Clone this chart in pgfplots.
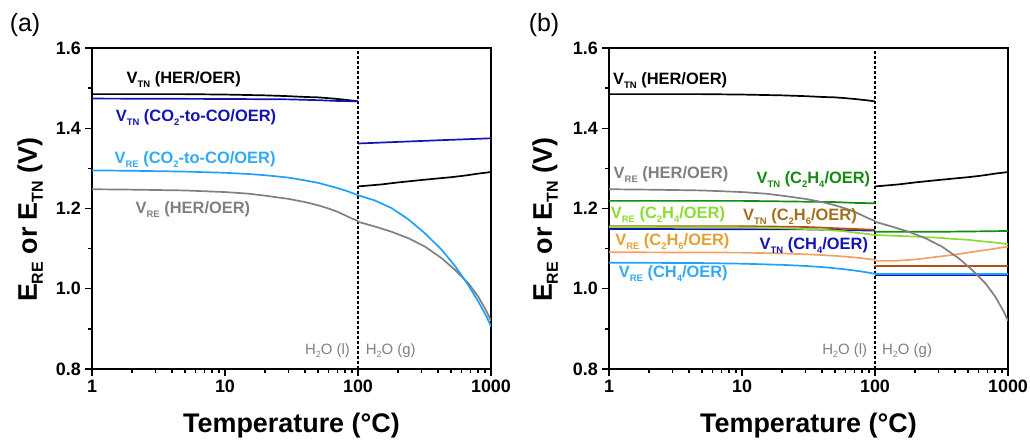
\documentclass[border=0pt]{standalone}
\usepackage{fontspec}
\setmainfont{Liberation Sans}
\usepackage{pgfplots}
\pgfplotsset{compat=1.18}

\definecolor{cblue}{RGB}{20,20,180}
\definecolor{clblue}{RGB}{30,160,255}
\definecolor{clbluelab}{RGB}{50,170,245}
\definecolor{cgrey}{RGB}{128,128,128}
\definecolor{cdgreen}{RGB}{20,140,20}
\definecolor{clgreen}{RGB}{140,220,50}
\definecolor{cbrown}{RGB}{180,80,20}
\definecolor{cbrownlab}{RGB}{165,110,30}
\definecolor{corange}{RGB}{245,160,100}
\definecolor{corangelab}{RGB}{230,160,50}

\newcommand\sub[1]{\raisebox{-4bp}{\fontsize{9.5}{10}\selectfont #1}}
\newcommand\lsub[1]{\raisebox{-6bp}{\fontsize{16}{16}\selectfont #1}}
\newcommand\hsub[1]{\raisebox{-3bp}{\fontsize{9}{9}\selectfont #1}}
\newcommand\labfont{\fontsize{16.5}{18}\selectfont\bfseries}

\pgfplotsset{every axis plot/.append style={line width=1.7bp, no marks}}

\begin{document}
\begin{tikzpicture}
\useasboundingbox (0,0) rectangle (1030bp,444bp);
\node[anchor=center, font=\fontsize{25}{27}\selectfont] at (25bp,419bp) {(a)};
\node[anchor=center, font=\fontsize{25}{27}\selectfont] at (544bp,419bp) {(b)};

% ---------------- panel (a)
\begin{axis}[
  at={(92bp,75bp)}, anchor=south west,
  xmode=log, scale only axis, width=399bp, height=321bp,
  xmin=1, xmax=1000, ymin=0.8, ymax=1.6,
  line width=1.6bp,
  xtick={1,10,100,1000}, xticklabels={1,10,100,1000},
  ytick={0.8,1.0,1.2,1.4,1.6},
  minor xtick={2,3,4,5,6,7,8,9,20,30,40,50,60,70,80,90,200,300,400,500,600,700,800,900},
  minor ytick={0.9,1.1,1.3,1.5},
  tick pos=left, tick align=outside,
  major tick length=7bp, minor tick length=4bp,
  every tick/.style={black, line width=1.4bp},
  yticklabel style={/pgf/number format/.cd, fixed, fixed zerofill, precision=1, assume math mode=true},
  xticklabel style={/pgf/number format/assume math mode=true},
  ticklabel style={font=\fontsize{18}{20}\selectfont\bfseries},
  xlabel={Temperature (°C)},
  ylabel={E\lsub{RE} or E\lsub{TN} (V)},
  label style={font=\fontsize{27}{30}\selectfont\bfseries},
  xlabel style={at={(axis description cs:0.5,-0.175)}, anchor=center},
  ylabel style={at={(axis description cs:-0.155,0.465)}, anchor=center},
]
\addplot[black, dash pattern=on 2.5bp off 2.5bp, line width=1.4bp] coordinates {(100,0.8) (100,1.6)};
% V_RE HER/OER grey
\addplot[cgrey] coordinates {(1,1.248)(2,1.247)(5,1.245)(10,1.241)(15,1.237)(20,1.232)(30,1.224)(40,1.216)(50,1.208)(60,1.200)(70,1.192)(80,1.183)(90,1.175)(100,1.169)};
\addplot[cgrey] coordinates {(100,1.167)(134,1.155)(179,1.142)(239,1.126)(319,1.105)(426,1.076)(536,1.047)(675,1.014)(803,0.980)(929,0.943)(1000,0.920)};
% V_RE CO2-to-CO light blue
\addplot[clblue] coordinates {(1,1.295)(2,1.294)(5,1.292)(10,1.289)(15,1.286)(20,1.283)(30,1.277)(40,1.270)(50,1.264)(60,1.257)(70,1.251)(80,1.245)(90,1.239)(100,1.233)};
\addplot[clblue] coordinates {(100,1.233)(134,1.220)(179,1.201)(239,1.173)(319,1.138)(426,1.097)(536,1.057)(675,1.009)(803,0.968)(929,0.930)(1000,0.906)};
% V_TN HER/OER black
\addplot[black] coordinates {(1,1.485)(5,1.485)(10,1.484)(20,1.482)(30,1.480)(40,1.478)(50,1.477)(60,1.475)(70,1.473)(80,1.471)(90,1.469)(100,1.467)};
\addplot[black] coordinates {(100,1.255)(150,1.260)(200,1.265)(300,1.271)(400,1.275)(500,1.278)(600,1.281)(700,1.284)(800,1.287)(900,1.289)(1000,1.291)};
% V_TN CO2-to-CO blue
\addplot[cblue] coordinates {(1,1.474)(10,1.473)(30,1.472)(50,1.470)(70,1.468)(100,1.467)};
\addplot[cblue] coordinates {(100,1.362)(200,1.366)(400,1.370)(700,1.373)(1000,1.375)};

\node[anchor=base west, inner sep=0, text=black, font=\labfont] at (axis cs:1.80,1.512) {V\sub{TN} (HER/OER)};
\node[anchor=base west, inner sep=0, text=cblue, font=\labfont] at (axis cs:1.49,1.418) {V\sub{TN} (CO\sub{2}-to-CO/OER)};
\node[anchor=base west, inner sep=0, text=clbluelab, font=\labfont] at (axis cs:1.46,1.3126) {V\sub{RE} (CO\sub{2}-to-CO/OER)};
\node[anchor=base west, inner sep=0, text=cgrey, font=\labfont] at (axis cs:2.10,1.188) {V\sub{RE} (HER/OER)};
\node[anchor=base east, inner sep=0, text=cgrey, font=\fontsize{15}{16}\selectfont] at (axis cs:88.1,0.835) {H\hsub{2}O (l)};
\node[anchor=base west, inner sep=0, text=cgrey, font=\fontsize{15}{16}\selectfont] at (axis cs:112.9,0.835) {H\hsub{2}O (g)};
\end{axis}

% ---------------- panel (b)
\begin{axis}[
  at={(609bp,75bp)}, anchor=south west,
  xmode=log, scale only axis, width=399bp, height=321bp,
  xmin=1, xmax=1000, ymin=0.8, ymax=1.6,
  line width=1.6bp,
  xtick={1,10,100,1000}, xticklabels={1,10,100,1000},
  ytick={0.8,1.0,1.2,1.4,1.6},
  minor xtick={2,3,4,5,6,7,8,9,20,30,40,50,60,70,80,90,200,300,400,500,600,700,800,900},
  minor ytick={0.9,1.1,1.3,1.5},
  tick pos=left, tick align=outside,
  major tick length=7bp, minor tick length=4bp,
  every tick/.style={black, line width=1.4bp},
  yticklabel style={/pgf/number format/.cd, fixed, fixed zerofill, precision=1, assume math mode=true},
  xticklabel style={/pgf/number format/assume math mode=true},
  ticklabel style={font=\fontsize{18}{20}\selectfont\bfseries},
  xlabel={Temperature (°C)},
  ylabel={E\lsub{RE} or E\lsub{TN} (V)},
  label style={font=\fontsize{27}{30}\selectfont\bfseries},
  xlabel style={at={(axis description cs:0.5,-0.175)}, anchor=center},
  ylabel style={at={(axis description cs:-0.16,0.465)}, anchor=center},
]
\addplot[black, dash pattern=on 2.5bp off 2.5bp, line width=1.4bp] coordinates {(100,0.8) (100,1.6)};
% V_TN CH4 dark blue
\addplot[cblue] coordinates {(1,1.149)(30,1.148)(60,1.146)(100,1.145)};
\addplot[cblue] coordinates {(100,1.034)(1000,1.034)};
% V_RE CH4 light blue
\addplot[clblue] coordinates {(1,1.065)(5,1.064)(10,1.0625)(20,1.0596)(30,1.0568)(40,1.054)(50,1.0511)(60,1.0483)(70,1.0455)(80,1.0427)(90,1.040)(100,1.037)};
\addplot[clblue] coordinates {(100,1.037)(300,1.037)(1000,1.037)};
% V_TN C2H6 brown
\addplot[cbrown] coordinates {(1,1.156)(10,1.156)(30,1.154)(50,1.151)(70,1.149)(100,1.147)};
\addplot[cbrown] coordinates {(100,1.056)(1000,1.056)};
% V_RE C2H6 orange
\addplot[corange] coordinates {(1,1.091)(10,1.090)(20,1.088)(30,1.086)(40,1.084)(50,1.082)(60,1.080)(70,1.078)(80,1.076)(90,1.074)(100,1.072)};
\addplot[corange] coordinates {(100,1.070)(150,1.070)(200,1.073)(300,1.080)(400,1.085)(500,1.090)(600,1.094)(700,1.097)(800,1.100)(900,1.103)(1000,1.105)};
% V_RE C2H4 light green
\addplot[clgreen] coordinates {(1,1.154)(10,1.153)(20,1.151)(30,1.149)(40,1.147)(50,1.145)(60,1.143)(70,1.140)(80,1.138)(90,1.136)(100,1.134)};
\addplot[clgreen] coordinates {(100,1.134)(200,1.130)(300,1.127)(400,1.124)(500,1.122)(600,1.119)(700,1.117)(800,1.115)(900,1.113)(1000,1.111)};
% V_TN C2H4 dark green
\addplot[cdgreen] coordinates {(1,1.219)(10,1.219)(30,1.217)(50,1.216)(70,1.214)(100,1.213)};
\addplot[cdgreen] coordinates {(100,1.142)(300,1.142)(600,1.143)(1000,1.144)};
% V_RE HER/OER grey
\addplot[cgrey] coordinates {(1,1.248)(2,1.247)(5,1.245)(10,1.241)(15,1.237)(20,1.232)(30,1.224)(40,1.216)(50,1.208)(60,1.200)(70,1.192)(80,1.183)(90,1.175)(100,1.169)};
\addplot[cgrey] coordinates {(100,1.167)(134,1.155)(179,1.142)(239,1.126)(319,1.105)(426,1.076)(536,1.047)(675,1.014)(803,0.980)(929,0.943)(1000,0.920)};
% V_TN HER/OER black
\addplot[black] coordinates {(1,1.485)(5,1.485)(10,1.484)(20,1.482)(30,1.480)(40,1.478)(50,1.477)(60,1.475)(70,1.473)(80,1.471)(90,1.469)(100,1.467)};
\addplot[black] coordinates {(100,1.255)(150,1.260)(200,1.265)(300,1.271)(400,1.275)(500,1.278)(600,1.281)(700,1.284)(800,1.287)(900,1.289)(1000,1.291)};

\node[anchor=base west, inner sep=0, text=black, font=\labfont] at (axis cs:1.06,1.508) {V\sub{TN} (HER/OER)};
\node[anchor=base west, inner sep=0, text=cgrey, font=\labfont] at (axis cs:1.07,1.2752) {V\sub{RE} (HER/OER)};
\node[anchor=base west, inner sep=0, text=cdgreen, font=\labfont] at (axis cs:12.7,1.2628) {V\sub{TN} (C\sub{2}H\sub{4}/OER)};
\node[anchor=base west, inner sep=0, text=clgreen, font=\labfont] at (axis cs:1.02,1.1756) {V\sub{RE} (C\sub{2}H\sub{4}/OER)};
\node[anchor=base west, inner sep=0, text=cbrownlab, font=\labfont] at (axis cs:10.07,1.1696) {V\sub{TN} (C\sub{2}H\sub{6}/OER)};
\node[anchor=base west, inner sep=0, text=corangelab, font=\labfont] at (axis cs:1.10,1.109) {V\sub{RE} (C\sub{2}H\sub{6}/OER)};
\node[anchor=base west, inner sep=0, text=cblue, font=\labfont] at (axis cs:13.4,1.0983) {V\sub{TN} (CH\sub{4}/OER)};
\node[anchor=base west, inner sep=0, text=clbluelab, font=\labfont] at (axis cs:1.17,1.0276) {V\sub{RE} (CH\sub{4}/OER)};
\node[anchor=base east, inner sep=0, text=cgrey, font=\fontsize{15}{16}\selectfont] at (axis cs:88.6,0.835) {H\hsub{2}O (l)};
\node[anchor=base west, inner sep=0, text=cgrey, font=\fontsize{15}{16}\selectfont] at (axis cs:111.7,0.835) {H\hsub{2}O (g)};
\end{axis}
\end{tikzpicture}
\end{document}
